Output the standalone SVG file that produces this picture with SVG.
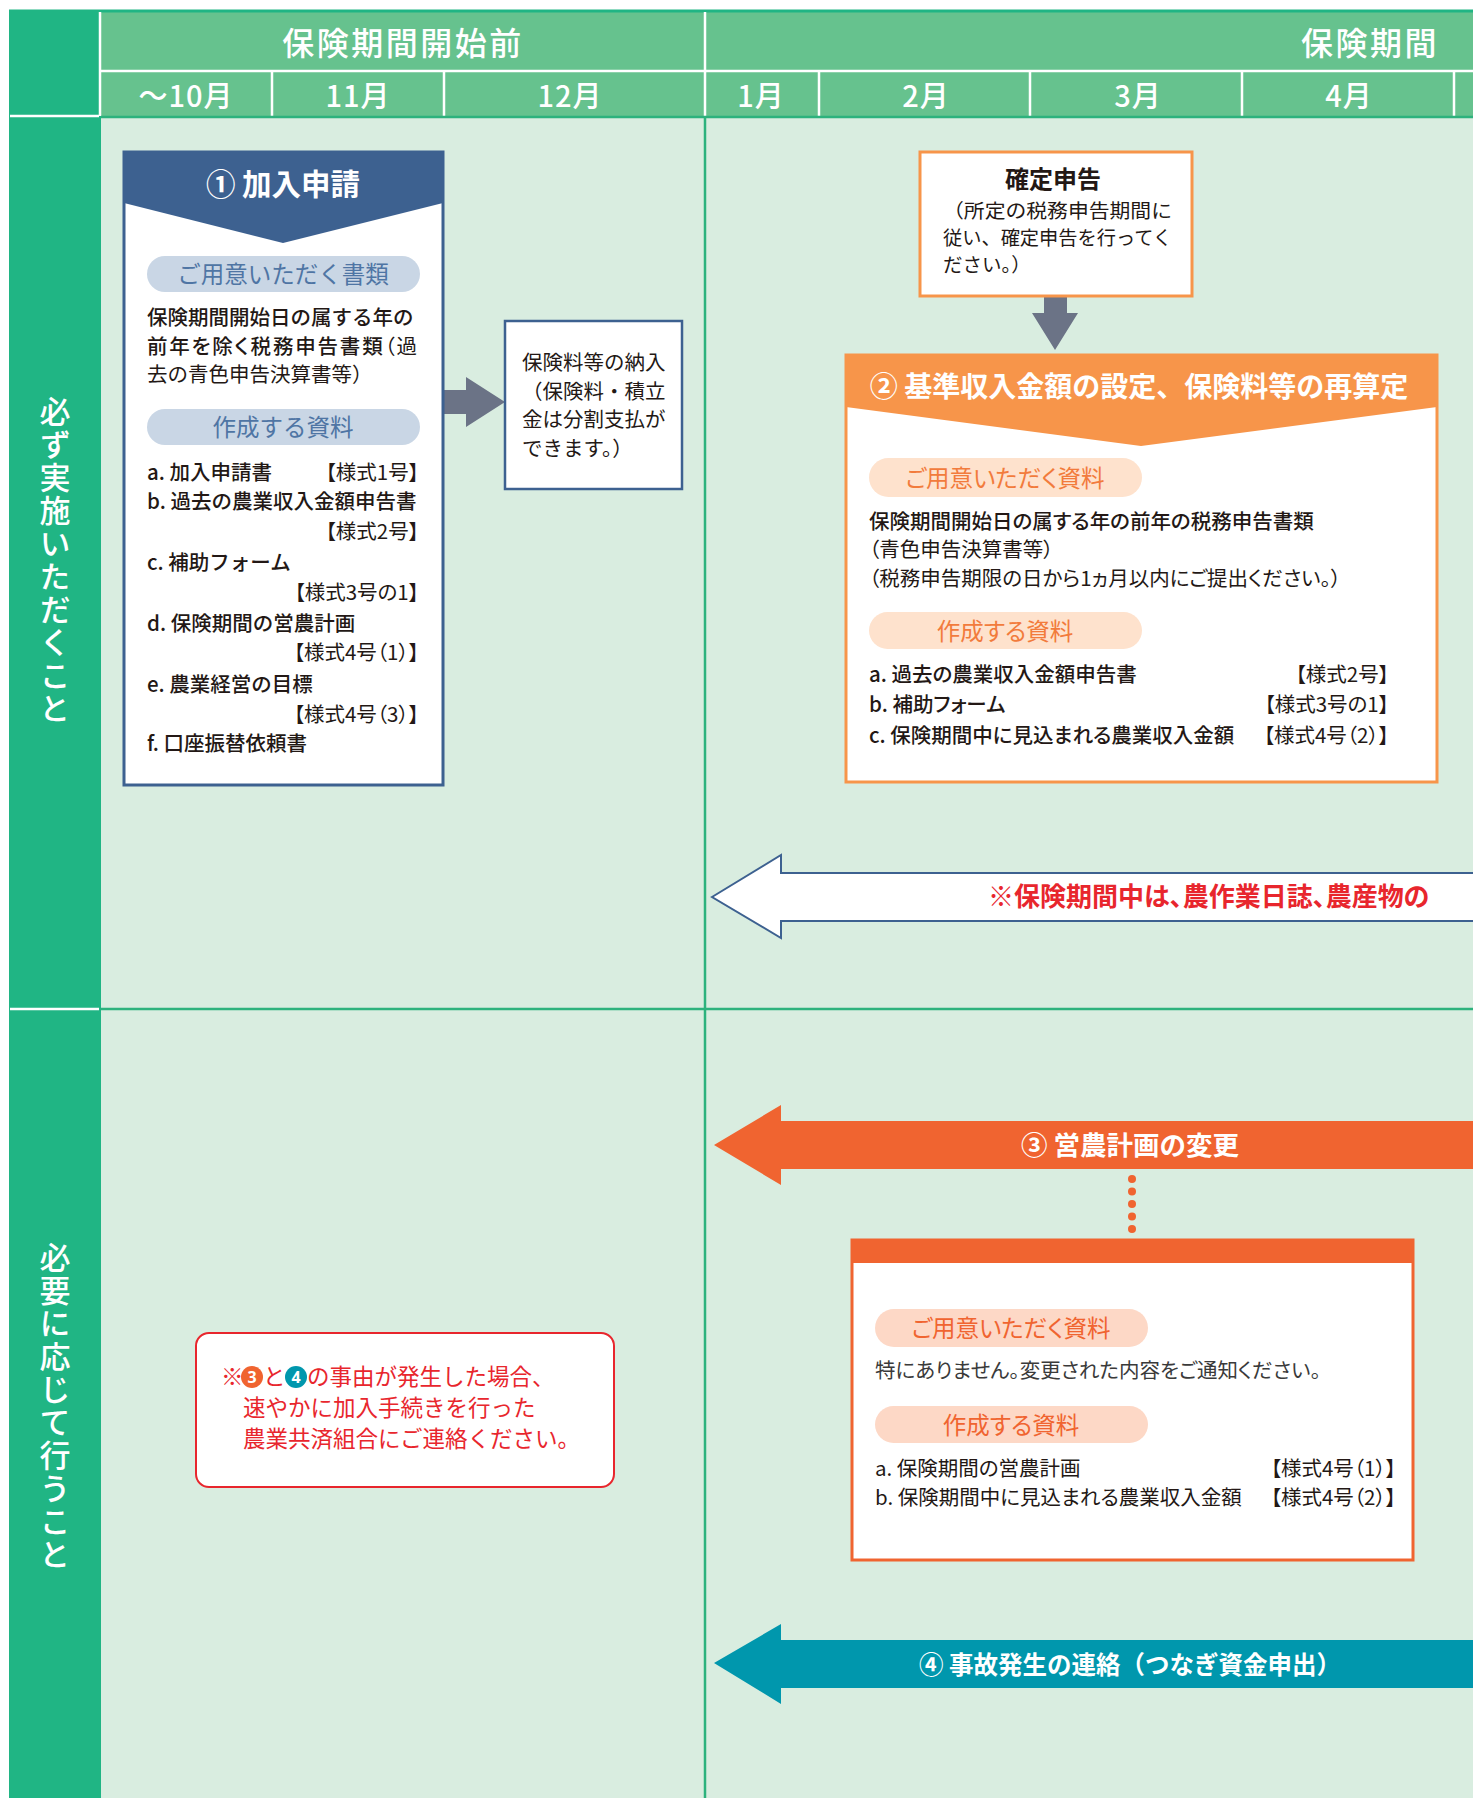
<svg xmlns="http://www.w3.org/2000/svg" width="1473" height="1798" viewBox="0 0 1473 1798">
<defs>
<style>
text{font-family:"Noto Sans CJK JP","Noto Sans",sans-serif;}
.w{fill:#fff}
.mid{text-anchor:middle}
.end{text-anchor:end}
.hdr{fill:#fff;font-size:32px;font-weight:500;letter-spacing:2.5px}
.mon{fill:#fff;font-size:29px;font-weight:500;text-anchor:middle;letter-spacing:1px}
.side{fill:#fff;font-size:31px;font-weight:500;writing-mode:vertical-rl;text-anchor:middle;letter-spacing:2px}
.grid{stroke:#2db27d;stroke-width:2.5;fill:none}
.wl{stroke:#fff;stroke-width:2.5}
.t{fill:#231815;font-size:20.5px}
.tm{font-weight:500}
.p{font-feature-settings:"palt"}
.pillB{fill:#c9d6e5}
.pillBt{fill:#4f75a4;font-size:23.5px;text-anchor:middle}
.pillO{fill:#fee2cd}
.pillOt{fill:#f27b3c;font-size:23.5px;text-anchor:middle}
.pillR{fill:#fdd8c6}
.pillRt{fill:#f06430;font-size:23.5px;text-anchor:middle}
.red{fill:#e8262d;font-size:22.5px}
.num{fill:#fff;font-size:16px;font-weight:700;text-anchor:middle;font-family:"Noto Sans",sans-serif}
</style>
</defs>

<g id="background">
<rect x="0" y="0" width="1473" height="1798" fill="#fff"/>
<rect x="9" y="11" width="92" height="1787" fill="#20b584"/>
<rect x="101" y="11" width="1372" height="106" fill="#66c28e"/>
<rect x="101" y="117" width="1372" height="1681" fill="#d9ede0"/>
<line x1="9" y1="11" x2="1473" y2="11" stroke="#20b584" stroke-width="3"/>
<line x1="100" y1="12" x2="100" y2="116" class="wl"/>
<line x1="705" y1="12" x2="705" y2="116" class="wl"/>
<line x1="101" y1="71" x2="1473" y2="71" class="wl"/>
<line x1="272" y1="71" x2="272" y2="116" class="wl"/>
<line x1="444" y1="71" x2="444" y2="116" class="wl"/>
<line x1="819" y1="71" x2="819" y2="116" class="wl"/>
<line x1="1030" y1="71" x2="1030" y2="116" class="wl"/>
<line x1="1242" y1="71" x2="1242" y2="116" class="wl"/>
<line x1="1454" y1="71" x2="1454" y2="116" class="wl"/>
<line x1="101" y1="117" x2="1473" y2="117" class="grid"/>
<line x1="10" y1="116" x2="99" y2="116" class="wl"/>
<line x1="10" y1="1009" x2="99" y2="1009" class="wl"/>
<line x1="705" y1="117" x2="705" y2="1798" class="grid"/>
<line x1="101" y1="1009" x2="1473" y2="1009" class="grid"/>
</g>

<g id="header">
<text x="403" y="55" class="hdr mid">保険期間開始前</text>
<text x="1301" y="55" class="hdr">保険期間</text>
<text x="186" y="107" class="mon">～10月</text>
<text x="358" y="107" class="mon">11月</text>
<text x="570" y="107" class="mon">12月</text>
<text x="761" y="107" class="mon">1月</text>
<text x="926" y="107" class="mon">2月</text>
<text x="1138" y="107" class="mon">3月</text>
<text x="1349" y="107" class="mon">4月</text>
<text x="55" y="561" class="side">必ず実施いただくこと</text>
<text x="55" y="1407" class="side">必要に応じて行うこと</text>
</g>

<g id="connectors">
<polygon points="443,390 466,390 466,377 505,402 466,427 466,414 443,414" fill="#6b7386"/>
<polygon points="1044,296 1067,296 1067,313 1078,313 1055,350 1032,313 1044,313" fill="#6b7386"/>
<g fill="#f06430">
<circle cx="1132" cy="1179" r="4"/>
<circle cx="1132" cy="1191.5" r="4"/>
<circle cx="1132" cy="1204" r="4"/>
<circle cx="1132" cy="1216.5" r="4"/>
<circle cx="1132" cy="1229" r="4"/>
</g>
</g>

<g id="node-1-kanyu">
<rect x="124" y="152" width="319" height="633" fill="#fff" stroke="#3d6190" stroke-width="3"/>
<polygon points="124,152 443,152 443,203 283,243 124,203" fill="#3d6190"/>
<text x="283" y="195" class="w mid" style="font-size:29.5px;font-weight:700">① 加入申請</text>
<rect x="147" y="256" width="273" height="36" rx="18" class="pillB"/>
<text x="283" y="283" class="pillBt">ご用意いただく書類</text>
<text x="147" y="325" class="t tm">保険期間開始日の属する年の</text>
<text x="147" y="354" class="t p" textLength="270" lengthAdjust="spacing"><tspan class="tm">前年を除く税務申告書類</tspan>（過</text>
<text x="147" y="382" class="t">去の青色申告決算書等）</text>
<rect x="147" y="409" width="273" height="36" rx="18" class="pillB"/>
<text x="283" y="436" class="pillBt">作成する資料</text>
<text x="147" y="480" class="t tm">a. 加入申請書</text>
<text x="419" y="480" class="t end p">【様式1号】</text>
<text x="147" y="509" class="t tm">b. 過去の農業収入金額申告書</text>
<text x="419" y="539" class="t end p">【様式2号】</text>
<text x="147" y="570" class="t tm">c. 補助フォーム</text>
<text x="419" y="600" class="t end p">【様式3号の1】</text>
<text x="147" y="631" class="t tm">d. 保険期間の営農計画</text>
<text x="419" y="660" class="t end p">【様式4号（1）】</text>
<text x="147" y="692" class="t tm">e. 農業経営の目標</text>
<text x="419" y="722" class="t end p">【様式4号（3）】</text>
<text x="147" y="751" class="t tm">f. 口座振替依頼書</text>
</g>

<g id="node-nounyu">
<rect x="505" y="321" width="177" height="168" fill="#fff" stroke="#3d6190" stroke-width="2.5"/>
<text x="522" y="370" class="t">保険料等の納入</text>
<text x="522" y="399" class="t">（保険料・積立</text>
<text x="522" y="427" class="t">金は分割支払が</text>
<text x="522" y="456" class="t">できます。）</text>
</g>

<g id="node-kakutei">
<rect x="920" y="152" width="272" height="144" fill="#fff" stroke="#f7954a" stroke-width="3"/>
<text x="1053" y="188" class="t mid" style="font-size:24px;font-weight:700">確定申告</text>
<text x="943" y="218" class="t" style="font-size:19.5px" textLength="229" lengthAdjust="spacingAndGlyphs">（所定の税務申告期間に</text>
<text x="943" y="245" class="t" style="font-size:19.5px" textLength="229" lengthAdjust="spacingAndGlyphs">従い、確定申告を行ってく</text>
<text x="943" y="272" class="t" style="font-size:19.5px">ださい。）</text>
</g>

<g id="node-2-kijun">
<rect x="846" y="355" width="591" height="427" fill="#fff" stroke="#f7954a" stroke-width="3"/>
<polygon points="846,355 1437,355 1437,407 1141,446 846,407" fill="#f7954a"/>
<text x="1139" y="397" class="w mid" style="font-size:28px;font-weight:700">② 基準収入金額の設定、保険料等の再算定</text>
<rect x="869" y="458" width="273" height="39" rx="19.5" class="pillO"/>
<text x="1005" y="487" class="pillOt p">ご用意いただく資料</text>
<text x="869" y="529" class="t tm p">保険期間開始日の属する年の前年の税務申告書類</text>
<text x="869" y="557" class="t p">（青色申告決算書等）</text>
<text x="869" y="586" class="t p">（税務申告期限の日から1ヵ月以内にご提出ください。）</text>
<rect x="869" y="612" width="273" height="37" rx="18.5" class="pillO"/>
<text x="1005" y="640" class="pillOt p">作成する資料</text>
<text x="869" y="682" class="t tm p">a. 過去の農業収入金額申告書</text>
<text x="1389" y="682" class="t end p">【様式2号】</text>
<text x="869" y="712" class="t tm p">b. 補助フォーム</text>
<text x="1389" y="712" class="t end p">【様式3号の1】</text>
<text x="869" y="743" class="t tm p">c. 保険期間中に見込まれる農業収入金額</text>
<text x="1389" y="743" class="t end p">【様式4号（2）】</text>
</g>

<g id="node-note-nisshi">
<polygon points="712,897 781,855 781,873 1480,873 1480,921 781,921 781,938" fill="#fff" stroke="#3d6190" stroke-width="2"/>
<text x="988" y="906" class="p" style="fill:#e8262d;font-size:26px;font-weight:700">※保険期間中は、農作業日誌、農産物の</text>
</g>

<g id="node-3-henkou-arrow">
<polygon points="714,1145 781,1105 781,1121 1480,1121 1480,1169 781,1169 781,1185" fill="#f06430"/>
<text x="1130" y="1155" class="w mid" style="font-size:26.5px;font-weight:700">③ 営農計画の変更</text>
</g>

<g id="node-3-henkou-box">
<rect x="852" y="1240" width="561" height="320" fill="#fff" stroke="#f06430" stroke-width="3"/>
<rect x="852" y="1240" width="561" height="23" fill="#f06430"/>
<rect x="875" y="1309" width="273" height="38" rx="19" class="pillR"/>
<text x="1011" y="1337" class="pillRt p">ご用意いただく資料</text>
<text x="875" y="1378" class="t p" style="fill:#3a3a3a">特にありません。変更された内容をご通知ください。</text>
<rect x="875" y="1406" width="273" height="37" rx="18.5" class="pillR"/>
<text x="1011" y="1434" class="pillRt p">作成する資料</text>
<text x="875" y="1476" class="t p">a. 保険期間の営農計画</text>
<text x="1396" y="1476" class="t end p">【様式4号（1）】</text>
<text x="875" y="1505" class="t p">b. 保険期間中に見込まれる農業収入金額</text>
<text x="1396" y="1505" class="t end p">【様式4号（2）】</text>
</g>

<g id="node-note-renraku">
<rect x="196" y="1333" width="418" height="154" rx="13" fill="#fff" stroke="#e8262d" stroke-width="2"/>
<text x="221" y="1385" class="red">※</text>
<circle cx="252" cy="1377" r="11" fill="#f06430"/>
<text x="252" y="1383" class="num">3</text>
<text x="263" y="1385" class="red">と</text>
<circle cx="296" cy="1377" r="11" fill="#0097ad"/>
<text x="296" y="1383" class="num">4</text>
<text x="307" y="1385" class="red">の事由が発生した場合、</text>
<text x="243" y="1416" class="red">速やかに加入手続きを行った</text>
<text x="243" y="1447" class="red">農業共済組合にご連絡ください。</text>
</g>

<g id="node-4-jiko">
<polygon points="714,1663 781,1624 781,1640 1480,1640 1480,1688 781,1688 781,1704" fill="#0097ad"/>
<text x="1130" y="1674" class="w mid" style="font-size:25px;font-weight:700" textLength="422" lengthAdjust="spacingAndGlyphs">④ 事故発生の連絡（つなぎ資金申出）</text>
</g>
</svg>
